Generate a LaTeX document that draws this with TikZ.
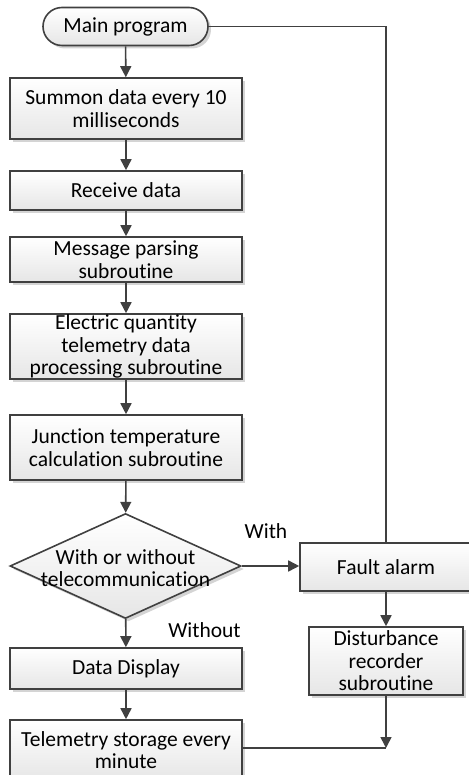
\documentclass[tikz,border=0pt]{standalone}
\usepackage{fontspec}
\setmainfont{Carlito}[Ligatures={NoCommon,NoContextual}]
\usetikzlibrary{arrows.meta,shapes.geometric,shadows}

\definecolor{linec}{HTML}{404040}
\definecolor{boxbot}{HTML}{E6E6E6}
\definecolor{shadowc}{HTML}{D4D4D4}

\begin{document}
\begin{tikzpicture}[x=1pt,y=1pt,
  font=\fontsize{21.5}{22.5}\selectfont,
  base/.style={draw=linec, line width=1.6pt, top color=white, bottom color=boxbot,
    align=center, inner sep=0pt,
    drop shadow={shadow xshift=3pt, shadow yshift=-3pt, fill=shadowc, opacity=1}},
  procbox/.style={base, rectangle, minimum width=232pt},
  pill/.style={base, rectangle, rounded corners=19pt, minimum width=165pt, minimum height=38pt},
  decision/.style={base, diamond, minimum width=231pt, minimum height=105pt},
  flow/.style={draw=linec, line width=1.6pt},
  arr/.style={flow, -{Triangle[width=11pt,length=11pt]}},
  tag/.style={inner sep=0pt}
]
\useasboundingbox (0,0) rectangle (468,-775);

% main column
\node[pill] (main) at (125.5,-26.5) {Main program};
\node[procbox, minimum height=61pt] (summon) at (126,-108.5) {Summon data every 10\\milliseconds};
\node[procbox, minimum height=39pt] (recv) at (126,-190.5) {Receive data};
\node[procbox, minimum height=45pt] (parse) at (126,-259.5) {Message parsing\\subroutine};
\node[procbox, minimum height=65pt] (elec) at (126,-346.5) {Electric quantity\\telemetry data\\processing subroutine};
\node[procbox, minimum height=65pt] (junc) at (126,-447.5) {Junction temperature\\calculation subroutine};
\node[decision] (dec) at (125.5,-566) {};
\node[tag, align=center] (dectext) at (125.5,-568) {With or without\\telecommunication};
\node[procbox, minimum height=41pt] (disp) at (126,-668.5) {Data Display};
\node[procbox, minimum height=60pt] (tele) at (126,-750) {Telemetry storage every\\minute};

% right column
\node[procbox, minimum width=172pt, minimum height=48pt] (fault) at (386,-567) {Fault alarm};
\node[procbox, minimum width=154pt, minimum height=68pt] (dist) at (386,-661) {Disturbance\\recorder\\subroutine};

% branch labels
\node[tag] (lwith) at (266,-531) {With};
\node[tag] (lwithout) at (204.5,-630) {Without};

% connectors
\draw[arr] (main) -- (summon);
\draw[arr] (summon) -- (recv);
\draw[arr] (recv) -- (parse);
\draw[arr] (parse) -- (elec);
\draw[arr] (elec) -- (junc);
\draw[arr] (junc) -- (dec);
\draw[arr] (dec) -- (disp);
\draw[arr] (disp) -- (tele);
\draw[arr] (dec.east) -- (fault.west |- dec.east);
\draw[flow] (main.east) -| (fault.north);
\draw[arr] (fault) -- (dist);
\coordinate (join) at (386,-748);
\draw[arr] (dist.south) -- (join);
\draw[flow] (join -| tele.east) -- (join);
\end{tikzpicture}
\end{document}
